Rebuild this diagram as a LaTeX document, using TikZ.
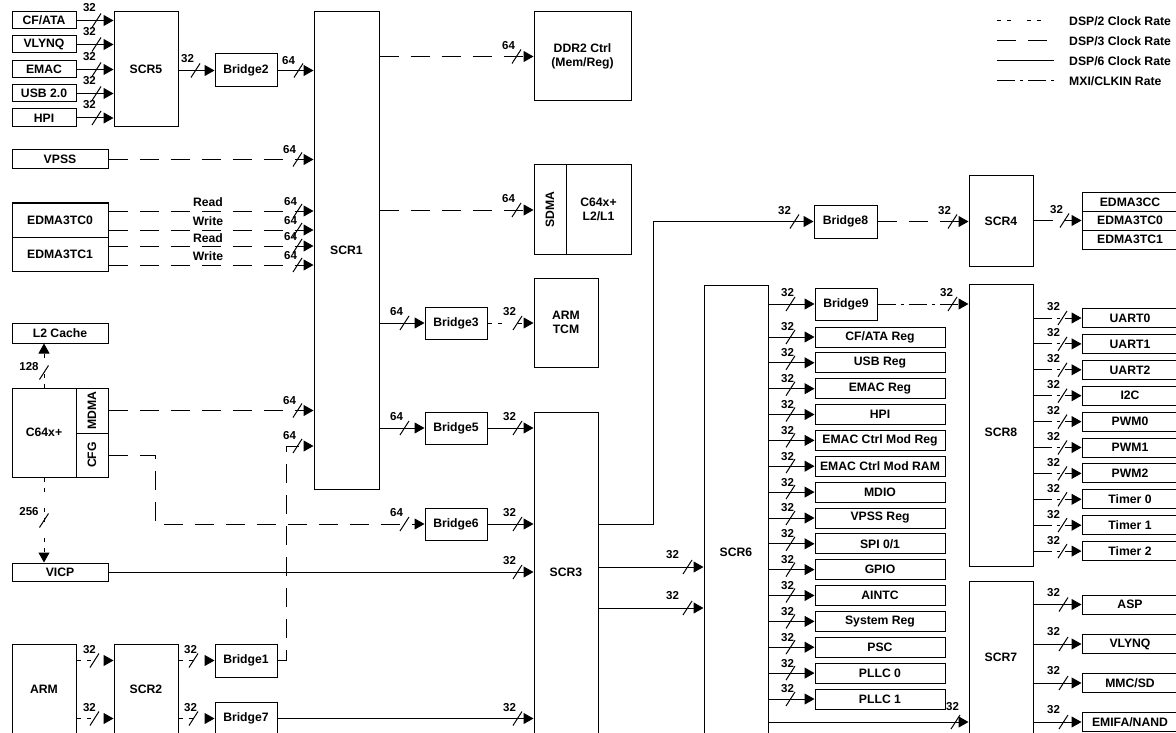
\documentclass[tikz,border=0pt]{standalone}
\usepackage{fontspec}
\setmainfont{Liberation Sans}
\usetikzlibrary{arrows.meta,decorations.markings}
\newcommand\mainf{\fontsize{12.2}{14}\selectfont\bfseries}
\newcommand\labf{\fontsize{11.5}{12}\selectfont\bfseries}
\newcommand\bxx[6]{\node[box,minimum width={(#4)-(#2)},minimum height={(#5)-(#3)}] (#1) at ({((#2)+(#4))/2},{((#3)+(#5))/2}) {#6};}
\newcommand\sixrow[3]{\bxx{#1}{815}{#2-10}{945}{#2+10}{#3}\draw[arr,sl=24pt,lx=-3,ly=-10,bw=32] (scr6.east |- #1.west) -- (#1.west);}
\newcommand\eightrow[3]{\bxx{#1}{1082}{#2-9.5}{1178}{#2+9.5}{#3}\draw[arr,mxi,sl=19pt,lx=-9,ly=-11,bw=32] (scr8.east |- #1.west) -- (#1.west);}
\newcommand\sevenrow[3]{\bxx{#1}{1082}{#2-9.5}{1178}{#2+9.5}{#3}\draw[arr,sl=18pt,lx=-10,ly=-12,bw=32] (scr7.east |- #1.west) -- (#1.west);}
\tikzset{
 box/.style={draw, line width=1pt, inner sep=0pt, align=center, font=\mainf},
 lab/.style={inner sep=0pt, font=\labf},
 txt/.style={inner sep=0pt, font=\mainf},
 ln/.style={line width=1pt},
 arr/.style={ln, -{Triangle[length=10pt,width=11pt]}},
 dsp2/.style={dash pattern=on 4pt off 6pt on 4pt off 16pt},
 dsp3/.style={dash pattern=on 19pt off 12pt},
 mxi/.style={dash pattern=on 18pt off 5pt on 3pt off 5pt},
 sl/.store in=\sldist, sl=17pt,
 lx/.store in=\lxv, lx=-6,
 ly/.store in=\lyv, ly=-12,
 bw/.style={postaction={decorate,decoration={markings,mark=at position -\sldist with {\pgftransformresetnontranslations \draw[solid,-,line width=1pt] (-4.5,7) -- (4.5,-7); \node[lab] at (\lxv,\lyv) {#1};}}}},
}
\begin{document}
\begin{tikzpicture}[x=1pt,y=-1pt]
\useasboundingbox (0,0) rectangle (1176,733);
\clip (0,0) rectangle (1176,733);
\fill[white] (0,0) rectangle (1176,733);

% ---------- top left ----------
\bxx{cfata}{12}{12}{76}{29}{CF/ATA}
\bxx{vlynqa}{12}{36}{76}{53}{VLYNQ}
\bxx{emaca}{12}{61}{76}{78}{EMAC}
\bxx{usba}{12}{85}{76}{102}{USB 2.0}
\bxx{hpia}{12}{109}{76}{127}{HPI}
\bxx{scr5}{114}{12}{178}{127}{SCR5}
\bxx{bridge2}{215}{54}{277}{87}{Bridge2}
\bxx{scr1}{314}{12}{379}{489}{SCR1}
\bxx{ddr2}{534}{12}{631}{101}{DDR2 Ctrl\\(Mem/Reg)}

\foreach \b in {cfata,vlynqa,emaca,usba,hpia}
  \draw[arr,lx=-7,ly=-13,bw=32] (\b.east) -- (\b.east -| scr5.west);
\draw[arr,sl=19pt,lx=-8,ly=-12,bw=32] (scr5.east |- bridge2.west) -- (bridge2.west);
\draw[arr,sl=15pt,lx=-10,ly=-10,bw=64] (bridge2.east) -- (bridge2.east -| scr1.west);
\draw[arr,dsp3,lx=-8,ly=-11,bw=64] (scr1.east |- ddr2.west) -- (ddr2.west);

% ---------- VPSS / EDMA ----------
\bxx{vpss}{12}{150}{108}{169}{VPSS}
\bxx{etc0}{12}{203}{108}{237}{EDMA3TC0}
\bxx{etc1}{12}{237}{108}{271}{EDMA3TC1}
\draw[arr,dsp3,sl=16pt,lx=-8,ly=-10,bw=64] (vpss.east) -- (vpss.east -| scr1.west);
\draw[arr,dsp3,sl=16pt,lx=-7,ly=-9,bw=64] (etc0.east |- 0,211) -- (scr1.west |- 0,211);
\draw[arr,dsp3,sl=16pt,lx=-7,ly=-9,bw=64] (etc0.east |- 0,230) -- (scr1.west |- 0,230);
\draw[arr,dsp3,sl=16pt,lx=-7,ly=-9,bw=64] (etc1.east |- 0,246) -- (scr1.west |- 0,246);
\draw[arr,dsp3,sl=16pt,lx=-7,ly=-9,bw=64] (etc1.east |- 0,265) -- (scr1.west |- 0,265);
\node[txt] (rd1) at (208,202) {Read};
\node[txt] (wr1) at (208,221) {Write};
\node[txt] (rd2) at (208,238) {Read};
\node[txt] (wr2) at (208,256) {Write};

% ---------- SDMA / ARM TCM ----------
\bxx{sdma}{534}{165}{566}{254}{}
\node[txt,rotate=90] at (sdma) {SDMA};
\bxx{c64l2}{566}{165}{631}{254}{C64x+\\L2/L1}
\draw[arr,dsp3,lx=-8,ly=-11,bw=64] (scr1.east |- 0,210) -- (sdma.west |- 0,210);
\bxx{bridge3}{425}{307}{487}{339}{Bridge3}
\bxx{armtcm}{534}{278}{598}{367}{ARM\\TCM}
\draw[arr,sl=20pt,lx=-8,ly=-11,bw=64] (scr1.east |- bridge3.west) -- (bridge3.west);
\draw[arr,dsp2,sl=16pt,lx=-8,ly=-11,bw=32] (bridge3.east) -- (bridge3.east -| armtcm.west);

% ---------- C64x+ ----------
\bxx{l2cache}{12}{323}{108}{343}{L2 Cache}
\bxx{c64}{12}{388}{76}{477}{C64x+}
\bxx{mdma}{76}{388}{108}{433}{}
\node[txt,rotate=90] at (mdma) {MDMA};
\bxx{cfg}{76}{433}{108}{477}{}
\node[txt,rotate=90] at (cfg) {CFG};
\bxx{vicp}{12}{563}{108}{581}{VICP}
\draw[arr,dsp2,sl=29pt,lx=-15,ly=-6,bw=128] (c64.north) -- (c64.north |- l2cache.south);
\draw[arr,dsp2,sl=42pt,lx=-15,ly=-9,bw=256] (c64.south) -- (c64.south |- vicp.north);
\draw[arr,dsp3,sl=16pt,lx=-8,ly=-10,bw=64] (mdma.east) -- (mdma.east -| scr1.west);

% ---------- bridges 5/6, SCR3 ----------
\bxx{bridge5}{425}{412}{487}{444}{Bridge5}
\bxx{bridge6}{425}{508}{487}{540}{Bridge6}
\bxx{scr3}{534}{412}{598}{760}{}
\node[txt] (scr3t) at (566,572) {SCR3};
\draw[arr,sl=20pt,lx=-8,ly=-11,bw=64] (scr1.east |- bridge5.west) -- (bridge5.west);
\draw[arr,sl=16pt,lx=-8,ly=-11,bw=32] (bridge5.east) -- (bridge5.east -| scr3.west);
\coordinate (cfgk1) at (155,455);
\coordinate (cfgk2) at (155,524);
\draw[arr,dsp3,sl=20pt,lx=-8,ly=-11,bw=64] (cfg.east) -- (cfgk1) -- (cfgk2) -- (cfgk2 -| bridge6.west);
\draw[arr,sl=16pt,lx=-8,ly=-11,bw=32] (bridge6.east) -- (bridge6.east -| scr3.west);
\draw[arr,sl=16pt,lx=-8,ly=-11,bw=32] (vicp.east) -- (vicp.east -| scr3.west);

% ---------- ARM / SCR2 ----------
\bxx{arm}{12}{644}{76}{760}{}
\node[txt] (armt) at (44,689) {ARM};
\bxx{scr2}{114}{644}{178}{760}{}
\node[txt] (scr2t) at (146,689) {SCR2};
\bxx{bridge1}{215}{644}{277}{677}{Bridge1}
\bxx{bridge7}{215}{702}{277}{735}{Bridge7}
\draw[arr,dsp2,sl=19pt,lx=-5,ly=-11,bw=32] (arm.east |- bridge1.west) -- (scr2.west |- bridge1.west);
\draw[arr,dsp2,sl=19pt,lx=-5,ly=-11,bw=32] (arm.east |- bridge7.west) -- (scr2.west |- bridge7.west);
\draw[arr,dsp2,sl=21pt,lx=-3,ly=-11,bw=32] (scr2.east |- bridge1.west) -- (bridge1.west);
\draw[arr,dsp2,sl=21pt,lx=-3,ly=-11,bw=32] (scr2.east |- bridge7.west) -- (bridge7.west);
\coordinate (b1k1) at (286,660.5);
\coordinate (b1k2) at (286,446);
\draw[arr,dsp3,sl=16pt,lx=-8,ly=-10,bw=64] (bridge1.east) -- (b1k1) -- (b1k2) -- (b1k2 -| scr1.west);
\draw[arr,sl=16pt,lx=-8,ly=-11,bw=32] (bridge7.east) -- (bridge7.east -| scr3.west);

% ---------- Bridge8 / SCR4 ----------
\bxx{bridge8}{814}{205}{877}{238}{Bridge8}
\bxx{scr4}{969}{176}{1033}{266}{SCR4}
\bxx{edmacc}{1082}{193}{1178}{211}{EDMA3CC}
\bxx{edmatc0}{1082}{211}{1178}{230}{EDMA3TC0}
\bxx{edmatc1}{1082}{230}{1178}{249}{EDMA3TC1}
\coordinate (s3k1) at (653,524);
\draw[arr,sl=19pt,lx=-10,ly=-11,bw=32] (scr3.east |- s3k1) -- (s3k1) -- (s3k1 |- bridge8.west) -- (bridge8.west);
\draw[arr,dsp3,sl=16pt,lx=-8,ly=-11,bw=32] (bridge8.east) -- (bridge8.east -| scr4.west);
\draw[arr,dsp3,sl=17pt,lx=-8,ly=-11,bw=32] (scr4.east |- edmatc0.west) -- (edmatc0.west);

% ---------- SCR6 ----------
\bxx{scr6}{704}{285}{768}{760}{}
\node[txt] (scr6t) at (736,552) {SCR6};
\draw[arr,sl=16pt,lx=-15,ly=-12,bw=32] (scr3.east |- 0,567) -- (scr6.west |- 0,567);
\draw[arr,sl=16pt,lx=-15,ly=-12,bw=32] (scr3.east |- 0,608) -- (scr6.west |- 0,608);
\bxx{bridge9}{815}{288}{877}{320}{Bridge9}
\draw[arr,sl=24pt,lx=-3,ly=-11,bw=32] (scr6.east |- bridge9.west) -- (bridge9.west);
\sixrow{cfreg}{337}{CF/ATA Reg}
\sixrow{usbreg}{362.8}{USB Reg}
\sixrow{emacreg}{388.7}{EMAC Reg}
\sixrow{hpireg}{414.5}{HPI}
\sixrow{ecmreg}{440.4}{EMAC Ctrl Mod Reg}
\sixrow{ecmram}{466.2}{EMAC Ctrl Mod RAM}
\sixrow{mdio}{492.1}{MDIO}
\sixrow{vpssreg}{518}{VPSS Reg}
\sixrow{spi}{543.8}{SPI 0/1}
\sixrow{gpio}{569.6}{GPIO}
\sixrow{aintc}{595.5}{AINTC}
\sixrow{sysreg}{621.4}{System Reg}
\sixrow{psc}{647.2}{PSC}
\sixrow{pllc0}{673.1}{PLLC 0}
\sixrow{pllc1}{699}{PLLC 1}

% ---------- SCR8 ----------
\bxx{scr8}{969}{284}{1033}{566}{}
\node[txt] (scr8t) at (1001,432) {SCR8};
\draw[arr,mxi,sl=16pt,lx=-6,ly=-11,bw=32] (bridge9.east) -- (bridge9.east -| scr8.west);
\eightrow{uart0}{318}{UART0}
\eightrow{uart1}{343.9}{UART1}
\eightrow{uart2}{369.8}{UART2}
\eightrow{i2c}{395.7}{I2C}
\eightrow{pwm0}{421.6}{PWM0}
\eightrow{pwm1}{447.5}{PWM1}
\eightrow{pwm2}{473.4}{PWM2}
\eightrow{timer0}{499.3}{Timer 0}
\eightrow{timer1}{525.2}{Timer 1}
\eightrow{timer2}{551.1}{Timer 2}

% ---------- SCR7 ----------
\bxx{scr7}{969}{581}{1033}{760}{}
\node[txt] (scr7t) at (1001,657) {SCR7};
\draw[arr,sl=13pt,lx=-3,ly=-15,bw=32] (scr6.east |- 0,722) -- (scr7.west |- 0,722);
\sevenrow{asp}{604.5}{ASP}
\sevenrow{vlynqb}{644}{VLYNQ}
\sevenrow{mmcsd}{683}{MMC/SD}
\sevenrow{emifa}{722}{EMIFA/NAND}

% ---------- legend ----------
\draw[ln,dsp2] (997,21) -- (1054,21);
\draw[ln,dsp3] (997,41) -- (1054,41);
\draw[ln] (997,61) -- (1054,61);
\draw[ln,mxi] (997,81) -- (1054,81);
\node[txt,anchor=west] (lg1) at (1069,21) {DSP/2 Clock Rate};
\node[txt,anchor=west] (lg2) at (1069,41) {DSP/3 Clock Rate};
\node[txt,anchor=west] (lg3) at (1069,61) {DSP/6 Clock Rate};
\node[txt,anchor=west] (lg4) at (1069,81) {MXI/CLKIN Rate};
\end{tikzpicture}
\end{document}
